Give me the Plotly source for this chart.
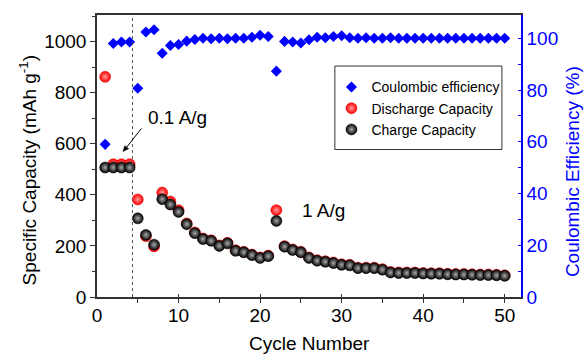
import plotly.graph_objects as go

cycles = list(range(1, 51))
discharge = [862, 520, 520, 520, 382, 238, 198, 409, 374, 340,
             288, 253, 229, 222, 202, 212, 183, 177, 166, 155,
             162, 340, 199, 186, 177, 155, 144, 140, 135, 128,
             126, 115, 115, 115, 109, 98, 96, 96, 96, 94,
             93, 93, 91, 90, 90, 89, 88, 88, 87, 85]
charge = [507, 507, 507, 507, 308, 243, 205, 383, 362, 333,
          285, 250, 227, 220, 200, 210, 181, 175, 164, 153,
          160, 298, 197, 184, 175, 153, 142, 138, 133, 126,
          124, 113, 113, 113, 107, 96, 94, 94, 94, 92,
          91, 91, 89, 88, 88, 87, 86, 86, 85, 83]
ce = [59, 98, 98.6, 98.6, 80.7, 102.4, 103.3, 94.2, 97.2, 97.6,
      98.9, 99.5, 100, 99.8, 100, 99.8, 100, 100, 100.4, 101.2,
      100.7, 87.3, 98.8, 98.6, 98.2, 99.4, 100.4, 100.2, 100.7, 101,
      100.2, 100, 100.2, 100, 100, 100.2, 100, 100, 100, 100,
      100, 100, 100, 100, 100, 100, 100, 100, 100, 100]

FONT = "'Liberation Sans', Arial, sans-serif"
BLUE = "#0000ff"

fig = go.Figure()
fig.add_trace(go.Scatter(
    x=cycles, y=ce, yaxis="y2", mode="markers", name="Coulombic efficiency",
    legendgroup="a",
    marker=dict(symbol="diamond", size=8.5, color=BLUE, line=dict(width=0))))
fig.add_trace(go.Scatter(
    x=cycles, y=discharge, mode="markers", name="Discharge Capacity",
    legendgroup="b",
    marker=dict(symbol="circle", size=11, color="#ff0000",
                gradient=dict(type="radial", color="#ff9a9a"),
                line=dict(width=0.5, color="#dd0000"))))
fig.add_trace(go.Scatter(
    x=cycles, y=charge, mode="markers", name="Charge Capacity",
    legendgroup="b",
    marker=dict(symbol="circle", size=11, color="#000000",
                gradient=dict(type="radial", color="#a8a8a8"),
                line=dict(width=0.5, color="#000000"))))

axis_common = dict(showgrid=False, zeroline=False, linewidth=1.5,
                   tickfont=dict(family=FONT, size=19, color="black"))

fig.update_layout(
    width=586, height=356,
    margin=dict(l=97, r=65, t=15, b=59),
    paper_bgcolor="white", plot_bgcolor="white",
    font=dict(family=FONT, color="black"),
    showlegend=True,
    legend=dict(x=0.553, y=0.800, xanchor="left", yanchor="top",
                bgcolor="rgba(0,0,0,0)", borderwidth=0,
                font=dict(family=FONT, size=14, color="black"),
                traceorder="grouped", tracegroupgap=0, itemsizing="trace"),
    xaxis=dict(range=[0, 52], dtick=10, tick0=0, ticks="inside", ticklen=3,
               tickcolor="#333", linecolor="#333", mirror=True,
               minor=dict(dtick=5, ticks="outside", ticklen=4, tickcolor="#333"),
               **axis_common),
    xaxis2=dict(range=[0, 52], overlaying="x", side="top", anchor="y",
                dtick=5, tick0=0, ticks="inside", ticklen=4, tickcolor="#333",
                showticklabels=False, showline=False, showgrid=False, zeroline=False),
    yaxis=dict(range=[0, 1104], dtick=200, tick0=0, ticks="outside", ticklen=5,
               tickcolor="#333", linecolor="#333",
               minor=dict(dtick=100, ticks="outside", ticklen=3, tickcolor="#333"),
               **axis_common),
    yaxis2=dict(range=[0, 109], dtick=20, tick0=0, overlaying="y", side="right",
                anchor="x", ticks="inside", ticklen=3, tickcolor=BLUE,
                linecolor=BLUE, showline=True, showgrid=False, zeroline=False,
                linewidth=1.5,
                minor=dict(dtick=10, ticks="inside", ticklen=3, tickcolor=BLUE),
                tickfont=dict(family=FONT, size=19, color=BLUE)),
    yaxis3=dict(range=[0, 109], dtick=20, tick0=0, overlaying="y", side="right",
                anchor="x", ticks="outside", ticklen=3, tickcolor=BLUE,
                showticklabels=False, showline=False, showgrid=False, zeroline=False,
                minor=dict(dtick=10, ticks="outside", ticklen=3, tickcolor=BLUE)),
)

# legend frame
fig.add_shape(type="rect", xref="paper", yref="paper",
              x0=0.561, x1=0.955, y0=0.523, y1=0.819,
              line=dict(color="#333", width=1), fillcolor="rgba(0,0,0,0)")

# rate boundary
fig.add_shape(type="line", xref="x", yref="paper", x0=4.35, x1=4.35, y0=0, y1=1,
              line=dict(color="#555", width=1, dash="dot"))

# axis titles
fig.add_annotation(text="Specific Capacity (mAh g<sup>-1</sup>)", xref="paper", yref="paper",
                   x=-0.162, y=0.45, xanchor="center", yanchor="middle",
                   textangle=-90, showarrow=False,
                   font=dict(family=FONT, size=19, color="black"))
fig.add_annotation(text="Coulombic Efficiency (%)", xref="paper", yref="paper",
                   x=1.12, y=0.446, xanchor="center", yanchor="middle",
                   textangle=-90, showarrow=False,
                   font=dict(family=FONT, size=19, color=BLUE))
fig.add_annotation(text="Cycle Number", xref="paper", yref="paper",
                   x=0.5, y=-0.164, xanchor="center", yanchor="middle",
                   showarrow=False, font=dict(family=FONT, size=19, color="black"))

# rate labels
fig.add_annotation(text="0.1 A/g", x=9.9, y=701, xref="x", yref="y", showarrow=False,
                   font=dict(family=FONT, size=19, color="black"))
fig.add_shape(type="line", xref="x", yref="y", x0=5.45, y0=660, x1=3.645, y1=586.6,
              line=dict(color="black", width=1))
fig.add_shape(type="path", xref="x", yref="y",
              path="M 3.19 569.5 L 3.89 580.7 L 3.40 592.5 Z",
              fillcolor="black", line=dict(color="black", width=0.5))
fig.add_annotation(text="1 A/g", x=27.8, y=340, xref="x", yref="y", showarrow=False,
                   font=dict(family=FONT, size=19, color="black"))

fig.write_html("out.html", config={"displayModeBar": False},
               post_script="document.body.style.margin='0px';")
